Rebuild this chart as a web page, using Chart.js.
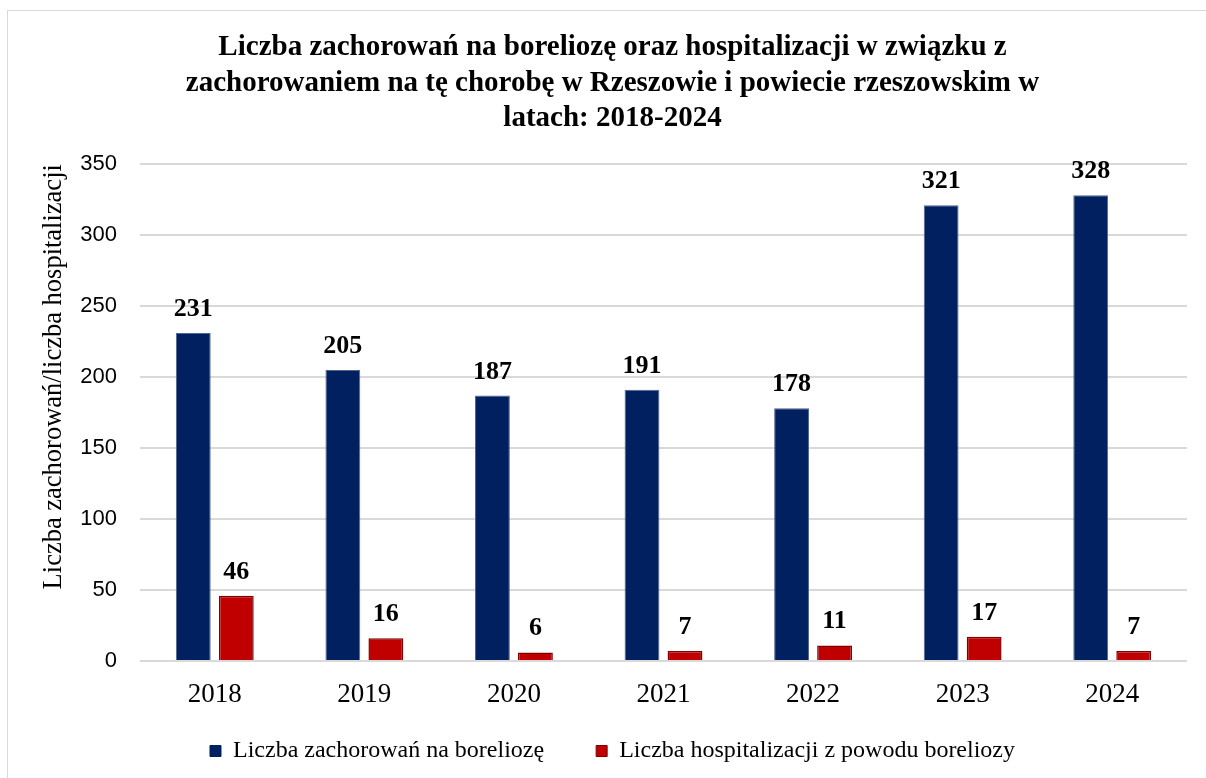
<!DOCTYPE html>
<html><head><meta charset="utf-8">
<script src="https://cdn.jsdelivr.net/npm/chart.js@4.4.1/dist/chart.umd.min.js"></script>
<style>
html,body{margin:0;padding:0;background:#fff;}
#wrap{position:relative;width:1206px;height:778px;}
#frame{position:absolute;left:7px;top:10px;width:1200px;height:780px;border-left:1.5px solid #d9d9d9;border-top:1.5px solid #d9d9d9;box-sizing:border-box;pointer-events:none;}
canvas{position:absolute;left:0;top:0;}
</style></head>
<body><div id="wrap"><canvas id="c" width="1206" height="778"></canvas><div id="frame"></div></div>
<script>
const categories = ['2018','2019','2020','2021','2022','2023','2024'];
const cases = [231,205,187,191,178,321,328];
const hospitalizations = [46,16,6,7,11,17,7];
const seriesNames = ['Liczba zachorowań na boreliozę','Liczba hospitalizacji z powodu boreliozy'];
const titleLines = ['Liczba zachorowań na boreliozę oraz hospitalizacji w związku z','zachorowaniem na tę chorobę w Rzeszowie i powiecie rzeszowskim w','latach: 2018-2024'];
const yTitle = 'Liczba zachorowań/liczba hospitalizacji';

const valueLabels = {
  id:'valueLabels',
  afterDatasetsDraw(chart){
    const ctx = chart.ctx;
    ctx.save();
    ctx.font = 'bold 26px "Liberation Serif"';
    ctx.fillStyle = '#000';
    ctx.textAlign = 'center';
    ctx.textBaseline = 'alphabetic';
    chart.data.datasets.forEach((ds,i)=>{
      chart.getDatasetMeta(i).data.forEach((bar,j)=>{
        ctx.fillText(String(ds.data[j]), bar.x, bar.y - 17);
      });
    });
    ctx.restore();
  }
};

new Chart(document.getElementById('c'),{
  type:'bar',
  data:{labels:categories,datasets:[
    {label:seriesNames[0],data:cases,backgroundColor:'#002060',borderColor:'#4f6491',borderWidth:1,categoryPercentage:0.575,barPercentage:0.81},
    {label:seriesNames[1],data:hospitalizations,backgroundColor:'#C00000',borderColor:'#7f0000',borderWidth:1.5,categoryPercentage:0.575,barPercentage:0.81}
  ]},
  options:{
    responsive:false,animation:false,
    layout:{padding:{left:38,right:19,top:30,bottom:5}},
    plugins:{
      title:{display:true,text:titleLines,color:'#000',font:{family:'"Liberation Serif"',size:29,weight:'bold',lineHeight:1.22},padding:{top:0,bottom:28}},
      legend:{position:'bottom',labels:{color:'#000',font:{family:'"Liberation Serif"',size:24},boxWidth:11,boxHeight:11,padding:52,
        generateLabels(chart){
          return chart.data.datasets.map((ds,i)=>({text:ds.label,fillStyle:ds.backgroundColor,strokeStyle:i===0?ds.backgroundColor:'#7f0000',lineWidth:1,datasetIndex:i}));
        }}},
      tooltip:{enabled:false}
    },
    scales:{
      x:{grid:{display:false,drawTicks:false},border:{display:false},ticks:{color:'#000',font:{family:'"Liberation Serif"',size:27},mirror:true,padding:-50},
        afterFit(scale){scale.height = 26;}},
      y:{min:0,max:350,ticks:{stepSize:50,color:'#000',font:{family:'"Liberation Sans"',size:22},padding:23},
        grid:{color:'#d9d9d9',lineWidth:2,drawTicks:false},border:{display:false},
        title:{display:true,text:yTitle,align:'end',color:'#000',font:{family:'"Liberation Serif"',size:26.5},padding:{top:0,bottom:0}},
        afterFit(scale){scale.width = 102;}}
    }
  },
  plugins:[valueLabels]
});
</script></body></html>
